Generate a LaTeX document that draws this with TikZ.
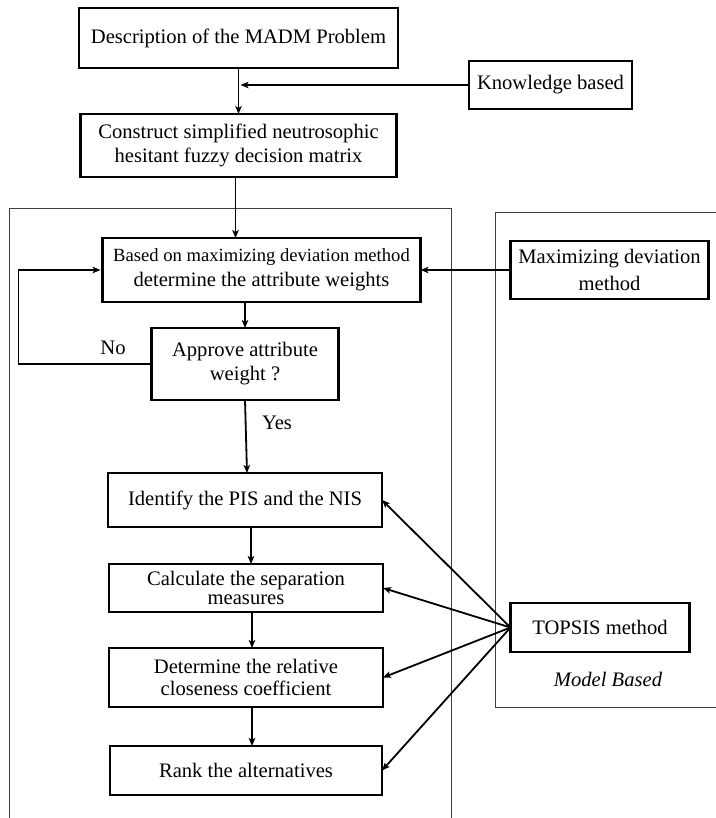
\documentclass[tikz,border=0pt]{standalone}
\usepackage{fontspec}
\setmainfont{Liberation Serif}
\usetikzlibrary{arrows.meta,positioning}
\tikzset{
  stepbox/.style = {rectangle,draw,line width=2.2pt,outer sep=0pt,align=center,inner sep=0pt,font=\fontsize{20.6}{24}\selectfont},
  frame/.style   = {draw=black!75,line width=1pt},
  flow/.style    = {-{Stealth[length=8pt,width=6.5pt,inset=2pt]},line width=1.8pt},
  lbl/.style     = {font=\fontsize{20.6}{24}\selectfont,inner sep=0pt},
}
\begin{document}
\begin{tikzpicture}[x=1pt,y=-1pt]
\useasboundingbox (0,0) rectangle (715,818);
% outer frames
\draw[frame] (9,209) rectangle (451,830);
\draw[frame] (495,213) rectangle (730,707);
% main chain
\node[stepbox,minimum width=319pt,minimum height=60pt] (desc) at (238.5,38) {Description of the MADM Problem};
\node[stepbox,minimum width=316pt,minimum height=63pt] (construct) [below=46pt of desc] {Construct simplified neutrosophic\\hesitant fuzzy decision matrix};
\node[stepbox,minimum width=318pt,minimum height=64pt] (based) [below=61pt of construct,xshift=23pt] {{\fontsize{18.6}{22}\selectfont Based on maximizing deviation method}\\[1pt]determine the attribute weights};
\node[stepbox,minimum width=187pt,minimum height=72pt] (approve) [below=26pt of based,xshift=-16.5pt] {Approve attribute\\weight ?};
\node[stepbox,minimum width=274pt,minimum height=54pt] (ident) [below=73pt of approve] {Identify the PIS and the NIS};
\node[stepbox,minimum width=274pt,minimum height=48pt,font=\fontsize{20.6}{19}\selectfont] (separ) [below=37pt of ident,xshift=1pt] {Calculate the separation\\measures};
\node[stepbox,minimum width=274pt,minimum height=59pt,font=\fontsize{20.6}{22}\selectfont] (closen) [below=36pt of separ] {Determine the relative\\closeness coefficient};
\node[stepbox,minimum width=272pt,minimum height=49pt] (rank) [below=39pt of closen] {Rank the alternatives};
% side sources
\node[stepbox,minimum width=163pt,minimum height=48pt] (know) [right=71pt of desc,yshift=-47pt] {Knowledge based};
\node[stepbox,minimum width=198pt,minimum height=58pt,font=\fontsize{20.6}{27}\selectfont] (maxdev) [right=90pt of based] {Maximizing deviation\\method};
\node[stepbox,minimum width=179pt,minimum height=49pt] (topsis) [below=304pt of maxdev,xshift=-9.5pt] {TOPSIS method};
\node[lbl,font=\fontsize{20.6}{24}\selectfont\itshape] (model) at (608,679) {Model Based};
% connectors
\coordinate (join) at (desc.south |- know.west);
\draw[line width=1.8pt] (desc.south) -- (join);
\draw[flow] (join) -- (desc.south |- construct.north);
\draw[flow] (know.west) -- ([xshift=2pt]join);
\draw[flow] ([xshift=-3pt]construct.south) -- ([xshift=-3pt]construct.south |- based.north);
\draw[flow] (maxdev.west) -- (based.east);
\draw[flow] (approve.north |- based.south) -- (approve.north);
\coordinate (loop) at ([xshift=-133pt]approve.west);
\draw[flow] (approve.west) -- (loop) |- ([xshift=-2pt]based.west);
\node[lbl] (no) at (113,348) {No};
\draw[flow] (approve.south) -- ([xshift=2pt]ident.north);
\node[lbl] (yes) at (277,423) {Yes};
\foreach \a/\b in {ident/separ,separ/closen,closen/rank}
  \draw[flow] ([xshift=6pt]\a.south) -- ([xshift=6pt]\a.south |- \b.north);
\foreach \t in {ident,separ,closen,rank}
  \draw[flow] (topsis.west) -- (\t.east);
\end{tikzpicture}
\end{document}
